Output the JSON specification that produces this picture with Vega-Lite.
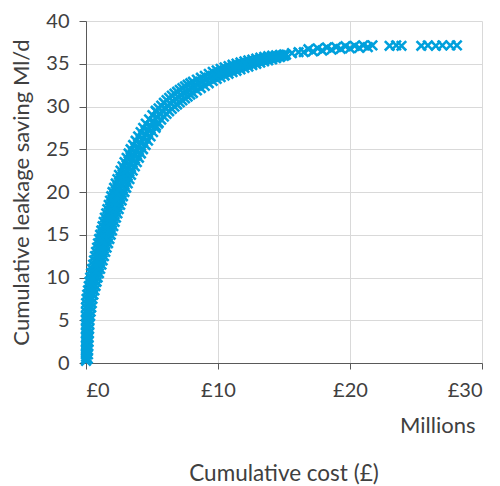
{
  "$schema": "https://vega.github.io/schema/vega-lite/v6.json",
  "width": 396,
  "height": 342,
  "autosize": {"type": "none"},
  "padding": {"left": 86, "top": 21, "right": 18, "bottom": 123},
  "background": "white",
  "config": {"view": {"stroke": null}, "font": "Lato"},
  "title": {
    "text": "Cumulative cost (£)",
    "orient": "bottom",
    "anchor": "middle",
    "frame": "group",
    "font": "Lato",
    "fontSize": 22.5,
    "fontWeight": "normal",
    "color": "#404040",
    "offset": 27
  },
  "data": {
    "values": [
      {"cost": 0, "saving": 0.5}, {"cost": 0, "saving": 1}, {"cost": 0, "saving": 1.5}, {"cost": 0, "saving": 2}, {"cost": 0, "saving": 2.5}, {"cost": 0, "saving": 3}, {"cost": 0, "saving": 3.5}, {"cost": 0, "saving": 4}, {"cost": 0, "saving": 4.5}, {"cost": 0, "saving": 5}, {"cost": 0, "saving": 5.5}, {"cost": 0, "saving": 6}, {"cost": 0, "saving": 6.5}, {"cost": 0.01, "saving": 7}, {"cost": 0.04, "saving": 7.5}, {"cost": 0.09, "saving": 8}, {"cost": 0.15, "saving": 8.5}, {"cost": 0.21, "saving": 9}, {"cost": 0.26, "saving": 9.5}, {"cost": 0.32, "saving": 10}, {"cost": 0.39, "saving": 10.5}, {"cost": 0.46, "saving": 11}, {"cost": 0.54, "saving": 11.5}, {"cost": 0.61, "saving": 12}, {"cost": 0.68, "saving": 12.5}, {"cost": 0.76, "saving": 13}, {"cost": 0.84, "saving": 13.5}, {"cost": 0.91, "saving": 14}, {"cost": 0.99, "saving": 14.5}, {"cost": 1.07, "saving": 15}, {"cost": 1.16, "saving": 15.5}, {"cost": 1.25, "saving": 16}, {"cost": 1.34, "saving": 16.5}, {"cost": 1.43, "saving": 17}, {"cost": 1.53, "saving": 17.5}, {"cost": 1.62, "saving": 18}, {"cost": 1.72, "saving": 18.5}, {"cost": 1.82, "saving": 19}, {"cost": 1.91, "saving": 19.5}, {"cost": 2.01, "saving": 20}, {"cost": 2.13, "saving": 20.5}, {"cost": 2.25, "saving": 21}, {"cost": 2.38, "saving": 21.5}, {"cost": 2.5, "saving": 22}, {"cost": 2.62, "saving": 22.5}, {"cost": 2.77, "saving": 23}, {"cost": 2.92, "saving": 23.5}, {"cost": 3.08, "saving": 24}, {"cost": 3.23, "saving": 24.5}, {"cost": 3.38, "saving": 25}, {"cost": 3.57, "saving": 25.5}, {"cost": 3.76, "saving": 26}, {"cost": 3.95, "saving": 26.5}, {"cost": 4.14, "saving": 27}, {"cost": 4.33, "saving": 27.5}, {"cost": 4.53, "saving": 28}, {"cost": 4.78, "saving": 28.5}, {"cost": 5.03, "saving": 29}, {"cost": 5.28, "saving": 29.5},
      {"cost": 0.13, "saving": 0.5}, {"cost": 0.15, "saving": 1}, {"cost": 0.16, "saving": 1.5}, {"cost": 0.17, "saving": 2}, {"cost": 0.19, "saving": 2.5}, {"cost": 0.2, "saving": 3}, {"cost": 0.22, "saving": 3.5}, {"cost": 0.23, "saving": 4}, {"cost": 0.25, "saving": 4.5}, {"cost": 0.26, "saving": 5}, {"cost": 0.31, "saving": 5.5}, {"cost": 0.35, "saving": 6}, {"cost": 0.4, "saving": 6.5}, {"cost": 0.44, "saving": 7}, {"cost": 0.49, "saving": 7.5}, {"cost": 0.56, "saving": 8}, {"cost": 0.64, "saving": 8.5}, {"cost": 0.72, "saving": 9}, {"cost": 0.8, "saving": 9.5}, {"cost": 0.88, "saving": 10}, {"cost": 0.98, "saving": 10.5}, {"cost": 1.07, "saving": 11}, {"cost": 1.17, "saving": 11.5}, {"cost": 1.26, "saving": 12}, {"cost": 1.36, "saving": 12.5}, {"cost": 1.46, "saving": 13}, {"cost": 1.56, "saving": 13.5}, {"cost": 1.67, "saving": 14}, {"cost": 1.77, "saving": 14.5}, {"cost": 1.87, "saving": 15}, {"cost": 1.97, "saving": 15.5}, {"cost": 2.07, "saving": 16}, {"cost": 2.17, "saving": 16.5}, {"cost": 2.27, "saving": 17}, {"cost": 2.38, "saving": 17.5}, {"cost": 2.48, "saving": 18}, {"cost": 2.59, "saving": 18.5}, {"cost": 2.7, "saving": 19}, {"cost": 2.8, "saving": 19.5}, {"cost": 2.91, "saving": 20}, {"cost": 3.04, "saving": 20.5}, {"cost": 3.16, "saving": 21}, {"cost": 3.29, "saving": 21.5}, {"cost": 3.41, "saving": 22}, {"cost": 3.54, "saving": 22.5}, {"cost": 3.7, "saving": 23}, {"cost": 3.85, "saving": 23.5}, {"cost": 4.01, "saving": 24}, {"cost": 4.16, "saving": 24.5}, {"cost": 4.32, "saving": 25}, {"cost": 4.51, "saving": 25.5}, {"cost": 4.7, "saving": 26}, {"cost": 4.89, "saving": 26.5}, {"cost": 5.08, "saving": 27}, {"cost": 5.27, "saving": 27.5}, {"cost": 5.47, "saving": 28},
      {"cost": 0, "saving": 0.25}, {"cost": 0.01, "saving": 0.75}, {"cost": 0.02, "saving": 1.25}, {"cost": 0.03, "saving": 1.75}, {"cost": 0.04, "saving": 2.25}, {"cost": 0.05, "saving": 2.75}, {"cost": 0.06, "saving": 3.25}, {"cost": 0.07, "saving": 3.75}, {"cost": 0.08, "saving": 4.25}, {"cost": 0.09, "saving": 4.75}, {"cost": 0.11, "saving": 5.25}, {"cost": 0.14, "saving": 5.75}, {"cost": 0.18, "saving": 6.25}, {"cost": 0.21, "saving": 6.75}, {"cost": 0.24, "saving": 7.25}, {"cost": 0.29, "saving": 7.75}, {"cost": 0.36, "saving": 8.25}, {"cost": 0.43, "saving": 8.75}, {"cost": 0.5, "saving": 9.25}, {"cost": 0.57, "saving": 9.75}, {"cost": 0.64, "saving": 10.25}, {"cost": 0.73, "saving": 10.75}, {"cost": 0.81, "saving": 11.25}, {"cost": 0.89, "saving": 11.75}, {"cost": 0.98, "saving": 12.25}, {"cost": 1.07, "saving": 12.75}, {"cost": 1.16, "saving": 13.25}, {"cost": 1.25, "saving": 13.75}, {"cost": 1.34, "saving": 14.25}, {"cost": 1.43, "saving": 14.75}, {"cost": 1.52, "saving": 15.25}, {"cost": 1.61, "saving": 15.75}, {"cost": 1.71, "saving": 16.25}, {"cost": 1.81, "saving": 16.75}, {"cost": 1.9, "saving": 17.25}, {"cost": 2, "saving": 17.75}, {"cost": 2.1, "saving": 18.25}, {"cost": 2.21, "saving": 18.75}, {"cost": 2.31, "saving": 19.25}, {"cost": 2.41, "saving": 19.75}, {"cost": 2.52, "saving": 20.25}, {"cost": 2.65, "saving": 20.75}, {"cost": 2.77, "saving": 21.25}, {"cost": 2.89, "saving": 21.75}, {"cost": 3.02, "saving": 22.25}, {"cost": 3.16, "saving": 22.75}, {"cost": 3.31, "saving": 23.25}, {"cost": 3.47, "saving": 23.75}, {"cost": 3.62, "saving": 24.25}, {"cost": 3.77, "saving": 24.75}, {"cost": 3.95, "saving": 25.25}, {"cost": 4.14, "saving": 25.75}, {"cost": 4.33, "saving": 26.25}, {"cost": 4.52, "saving": 26.75}, {"cost": 4.71, "saving": 27.25}, {"cost": 4.9, "saving": 27.75}, {"cost": 5.12, "saving": 28.25},
      {"cost": 5.3, "saving": 29.42}, {"cost": 5.5, "saving": 29.79}, {"cost": 5.7, "saving": 30.11}, {"cost": 5.9, "saving": 30.44}, {"cost": 6.1, "saving": 30.74}, {"cost": 6.3, "saving": 31.01}, {"cost": 6.5, "saving": 31.27}, {"cost": 6.7, "saving": 31.5}, {"cost": 6.9, "saving": 31.73}, {"cost": 7.1, "saving": 31.94}, {"cost": 7.3, "saving": 32.15}, {"cost": 7.5, "saving": 32.35}, {"cost": 7.7, "saving": 32.54}, {"cost": 7.9, "saving": 32.72}, {"cost": 8.1, "saving": 32.9}, {"cost": 8.4, "saving": 33.14}, {"cost": 8.7, "saving": 33.36}, {"cost": 9, "saving": 33.58}, {"cost": 9.3, "saving": 33.82}, {"cost": 9.6, "saving": 34.05}, {"cost": 9.9, "saving": 34.23}, {"cost": 10.2, "saving": 34.4}, {"cost": 10.5, "saving": 34.57}, {"cost": 10.8, "saving": 34.73}, {"cost": 11.1, "saving": 34.88}, {"cost": 11.4, "saving": 35.02}, {"cost": 11.7, "saving": 35.15}, {"cost": 12, "saving": 35.28}, {"cost": 12.3, "saving": 35.39}, {"cost": 12.6, "saving": 35.49}, {"cost": 12.9, "saving": 35.6}, {"cost": 13.2, "saving": 35.7}, {"cost": 13.5, "saving": 35.81}, {"cost": 13.8, "saving": 35.88}, {"cost": 14.1, "saving": 35.94}, {"cost": 14.4, "saving": 35.98}, {"cost": 14.7, "saving": 36.03}, {"cost": 15, "saving": 36.08},
      {"cost": 5.3, "saving": 27.72}, {"cost": 5.5, "saving": 28.11}, {"cost": 5.7, "saving": 28.47}, {"cost": 5.9, "saving": 28.82}, {"cost": 6.1, "saving": 29.14}, {"cost": 6.3, "saving": 29.44}, {"cost": 6.5, "saving": 29.73}, {"cost": 6.7, "saving": 29.98}, {"cost": 6.9, "saving": 30.23}, {"cost": 7.1, "saving": 30.48}, {"cost": 7.3, "saving": 30.71}, {"cost": 7.5, "saving": 30.95}, {"cost": 7.7, "saving": 31.16}, {"cost": 7.9, "saving": 31.38}, {"cost": 8.1, "saving": 31.58}, {"cost": 8.4, "saving": 31.88}, {"cost": 8.7, "saving": 32.16}, {"cost": 9, "saving": 32.42}, {"cost": 9.3, "saving": 32.72}, {"cost": 9.6, "saving": 32.99}, {"cost": 9.9, "saving": 33.23}, {"cost": 10.2, "saving": 33.44}, {"cost": 10.5, "saving": 33.63}, {"cost": 10.8, "saving": 33.83}, {"cost": 11.1, "saving": 34.02}, {"cost": 11.4, "saving": 34.18}, {"cost": 11.7, "saving": 34.35}, {"cost": 12, "saving": 34.52}, {"cost": 12.3, "saving": 34.67}, {"cost": 12.6, "saving": 34.83}, {"cost": 12.9, "saving": 34.98}, {"cost": 13.2, "saving": 35.14}, {"cost": 13.5, "saving": 35.29}, {"cost": 13.8, "saving": 35.4}, {"cost": 14.1, "saving": 35.52}, {"cost": 14.4, "saving": 35.66}, {"cost": 14.7, "saving": 35.79}, {"cost": 15, "saving": 35.92},
      {"cost": 5.4, "saving": 28.76}, {"cost": 5.6, "saving": 29.12}, {"cost": 5.8, "saving": 29.46}, {"cost": 6, "saving": 29.8}, {"cost": 6.2, "saving": 30.08}, {"cost": 6.4, "saving": 30.36}, {"cost": 6.6, "saving": 30.62}, {"cost": 6.8, "saving": 30.86}, {"cost": 7, "saving": 31.1}, {"cost": 7.2, "saving": 31.32}, {"cost": 7.4, "saving": 31.54}, {"cost": 7.6, "saving": 31.75}, {"cost": 7.8, "saving": 31.95}, {"cost": 8, "saving": 32.15}, {"cost": 8.25, "saving": 32.38}, {"cost": 8.55, "saving": 32.64}, {"cost": 8.85, "saving": 32.88}, {"cost": 9.15, "saving": 33.14}, {"cost": 9.45, "saving": 33.41}, {"cost": 9.75, "saving": 33.62}, {"cost": 10.05, "saving": 33.83}, {"cost": 10.35, "saving": 34.01}, {"cost": 10.65, "saving": 34.19}, {"cost": 10.95, "saving": 34.37}, {"cost": 11.25, "saving": 34.53}, {"cost": 11.55, "saving": 34.68}, {"cost": 11.85, "saving": 34.83}, {"cost": 12.15, "saving": 34.97}, {"cost": 12.45, "saving": 35.1}, {"cost": 12.75, "saving": 35.23}, {"cost": 13.05, "saving": 35.35}, {"cost": 13.35, "saving": 35.48}, {"cost": 13.65, "saving": 35.6}, {"cost": 13.95, "saving": 35.69}, {"cost": 14.25, "saving": 35.78}, {"cost": 14.55, "saving": 35.87}, {"cost": 14.85, "saving": 35.96}, {"cost": 15.15, "saving": 36.05},
      {"cost": 15.6, "saving": 36.25}, {"cost": 16.1, "saving": 36.35}, {"cost": 16.5, "saving": 36.35}, {"cost": 16.85, "saving": 36.7}, {"cost": 17.2, "saving": 36.45}, {"cost": 17.55, "saving": 36.8}, {"cost": 17.9, "saving": 36.55}, {"cost": 18.25, "saving": 36.9}, {"cost": 18.6, "saving": 36.65}, {"cost": 18.95, "saving": 36.95}, {"cost": 19.3, "saving": 36.75}, {"cost": 19.65, "saving": 37.05}, {"cost": 20, "saving": 36.8}, {"cost": 20.35, "saving": 37.1}, {"cost": 20.7, "saving": 36.85}, {"cost": 21, "saving": 37.15}, {"cost": 21.35, "saving": 36.95}, {"cost": 21.7, "saving": 37.15},
      {"cost": 23, "saving": 37.1}, {"cost": 23.5, "saving": 37.15}, {"cost": 23.9, "saving": 37.1},
      {"cost": 25.4, "saving": 37.1}, {"cost": 25.9, "saving": 37.15}, {"cost": 26.5, "saving": 37.1}, {"cost": 27, "saving": 37.15}, {"cost": 27.6, "saving": 37.15}, {"cost": 28.1, "saving": 37.15}
    ]
  },
  "mark": {
    "type": "point",
    "shape": "M-1,-1L1,1M-1,1L1,-1",
    "filled": false,
    "size": 90,
    "strokeWidth": 2.6,
    "color": "#00A0DC",
    "opacity": 1
  },
  "encoding": {
    "x": {
      "field": "cost",
      "type": "quantitative",
      "scale": {"domain": [0, 30], "nice": false, "zero": true},
      "axis": {
        "values": [0, 10, 20, 30],
        "labelExpr": "'£' + datum.value",
        "title": "Millions",
        "titleAlign": "right",
        "titleAnchor": "end",
        "titleX": 389,
        "titleFont": "Lato",
        "titleFontSize": 22,
        "titleFontWeight": "normal",
        "titleColor": "#404040",
        "titlePadding": 15,
        "labelFont": "Lato",
        "labelFontSize": 20,
        "labelColor": "#404040",
        "labelPadding": 11,
        "tickSize": 6,
        "tickColor": "#595959",
        "domainColor": "#595959",
        "gridColor": "#D9D9D9",
        "grid": true
      }
    },
    "y": {
      "field": "saving",
      "type": "quantitative",
      "scale": {"domain": [0, 40], "nice": false},
      "axis": {
        "values": [0, 5, 10, 15, 20, 25, 30, 35, 40],
        "title": "Cumulative leakage saving Ml/d",
        "titleFont": "Lato",
        "titleFontSize": 22,
        "titleFontWeight": "normal",
        "titleColor": "#404040",
        "titlePadding": 12,
        "labelFont": "Lato",
        "labelFontSize": 20,
        "labelColor": "#404040",
        "labelPadding": 10,
        "tickSize": 7,
        "tickColor": "#595959",
        "domainColor": "#595959",
        "gridColor": "#D9D9D9",
        "grid": true
      }
    }
  }
}
